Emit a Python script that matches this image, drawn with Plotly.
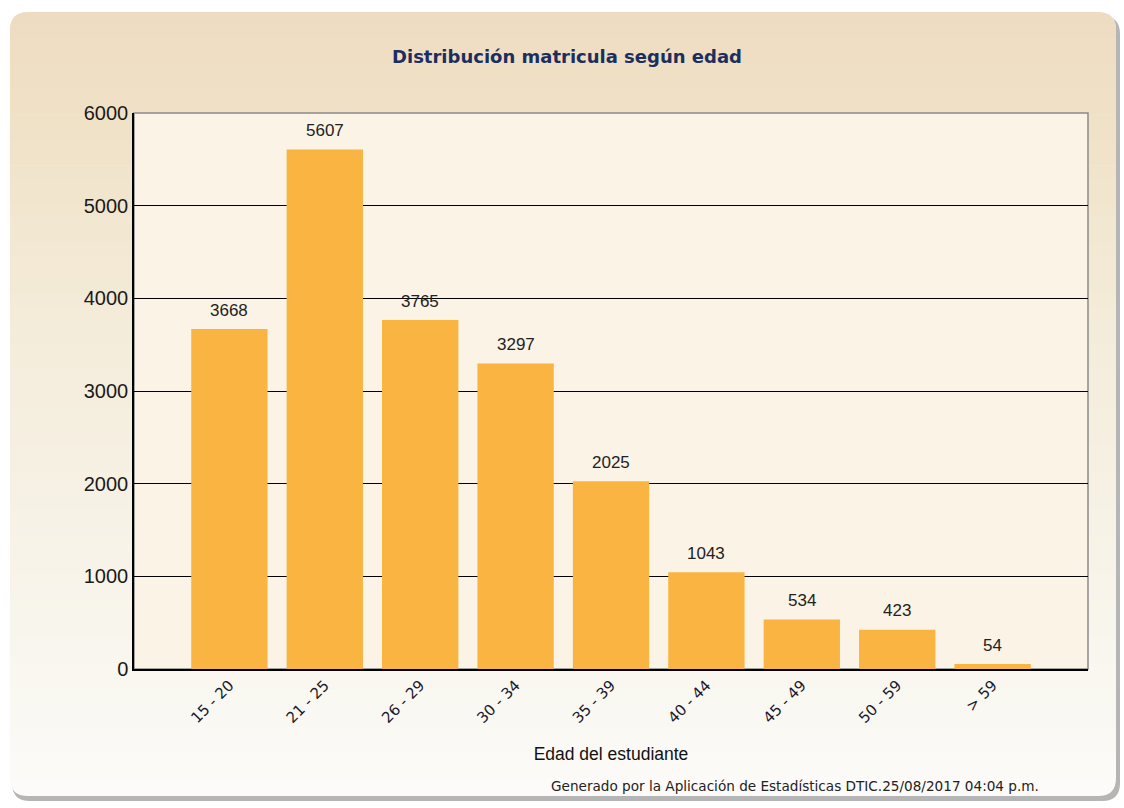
import plotly.graph_objects as go

# data
categorias = ["15 - 20", "21 - 25", "26 - 29", "30 - 34", "35 - 39",
              "40 - 44", "45 - 49", "50 - 59", "> 59"]
matricula = [3668, 5607, 3765, 3297, 2025, 1043, 534, 423, 54]
y_ticks = [0, 1000, 2000, 3000, 4000, 5000, 6000]

W, H = 1124, 808
L, R, T, B = 134, 36, 113, 139
PW, PH = W - L - R, H - T - B


def px(x):
    return (x - L) / PW


def py(y):
    return (H - B - y) / PH


def rounded(x0, y0, x1, y1, r, top=True, bottom=True):
    # rounded rectangle path in paper coordinates, built from pixel values
    rx, ry = r / PW, r / PH
    a, b, c, d = px(x0), px(x1), py(y0), py(y1)  # c = top, d = bottom
    p = []
    if top:
        p.append(f"M{a},{c - ry} Q{a},{c} {a + rx},{c} L{b - rx},{c} Q{b},{c} {b},{c - ry}")
    else:
        p.append(f"M{a},{c} L{b},{c}")
    if bottom:
        p.append(f"L{b},{d + ry} Q{b},{d} {b - rx},{d} L{a + rx},{d} Q{a},{d} {a},{d + ry} Z")
    else:
        p.append(f"L{b},{d} L{a},{d} Z")
    return " ".join(p)


def mix(c1, c2, t):
    return "rgb({},{},{})".format(*[round(c1[i] + (c2[i] - c1[i]) * t) for i in range(3)])


shapes = []
# shadow
shapes.append(dict(type="path", xref="paper", yref="paper", layer="below",
                   path=rounded(12, 16, 1120, 801, 18), fillcolor="#b5b5b5",
                   line=dict(width=0)))
# panel base
shapes.append(dict(type="path", xref="paper", yref="paper", layer="below",
                   path=rounded(10, 12, 1116, 796, 18), fillcolor="#fcfbf9",
                   line=dict(width=0)))
# gradient bands
top_c, mid_c, low_c, bot_c = (238, 220, 194), (244, 236, 218), (249, 247, 240), (252, 251, 249)
stops = [(12, top_c), (110, (240, 225, 198)), (330, mid_c), (680, low_c), (796, bot_c)]
y_start, y_end = 12, 778
n = 60
step = (y_end - y_start) / n
for k in range(n):
    ya = y_start + k * step
    ym = ya + step / 2
    for j in range(len(stops) - 1):
        if stops[j][0] <= ym <= stops[j + 1][0]:
            t = (ym - stops[j][0]) / (stops[j + 1][0] - stops[j][0])
            col = mix(stops[j][1], stops[j + 1][1], t)
            break
    if k == 0:
        path = rounded(10, ya, 1116, ya + step + 0.6, 18, top=True, bottom=False)
        shapes.append(dict(type="path", xref="paper", yref="paper", layer="below",
                           path=path, fillcolor=col, line=dict(width=0)))
    else:
        shapes.append(dict(type="rect", xref="paper", yref="paper", layer="below",
                           x0=px(10), x1=px(1116), y0=py(ya + step + 0.6), y1=py(ya),
                           fillcolor=col, line=dict(width=0)))
# plot area background and frame
shapes.append(dict(type="rect", xref="paper", yref="paper", layer="below",
                   x0=0, x1=1, y0=0, y1=1, fillcolor="#fbf3e6",
                   line=dict(color="#8a8a8a", width=1.5)))

fig = go.Figure()
fig.add_trace(go.Bar(
    x=categorias, y=matricula,
    marker=dict(color="#f9b441", line=dict(width=0)),
    width=0.8,
    hoverinfo="x+y",
))

# value labels above the bars
annotations = []
for cat, val in zip(categorias, matricula):
    annotations.append(dict(x=cat, y=val, text=str(val), showarrow=False,
                            yanchor="middle", yshift=19,
                            font=dict(family="Liberation Sans", size=17, color="#222222")))
annotations.append(dict(
    text="Generado por la Aplicación de Estadísticas DTIC.25/08/2017 04:04 p.m.",
    xref="paper", yref="paper", x=px(1041), y=py(786),
    xanchor="right", yanchor="middle", showarrow=False,
    font=dict(family="DejaVu Sans", size=13.6, color="#222222")))

fig.update_layout(
    width=W, height=H,
    margin=dict(l=L, r=R, t=T, b=B),
    paper_bgcolor="white",
    plot_bgcolor="rgba(0,0,0,0)",
    showlegend=False,
    title=dict(text="<b>Distribución matricula según edad</b>",
               x=567 / W, xanchor="center",
               y=1 - 57 / H, yanchor="middle",
               font=dict(family="DejaVu Sans", size=18, color="#1b2f5e")),
    shapes=shapes,
    bargap=0.2,
    annotations=annotations,
)

fig.update_xaxes(
    type="category", range=[-1, len(categorias)],
    tickangle=-45,
    tickfont=dict(family="DejaVu Sans", size=15, color="#1a1a2e"),
    showline=True, linecolor="black", linewidth=1.5,
    showgrid=False, ticks="",
    title=dict(text="Edad del estudiante", standoff=22,
               font=dict(family="Liberation Sans", size=17.5, color="#111111")),
)
fig.update_yaxes(
    range=[0, 6000], tickvals=y_ticks,
    tickfont=dict(family="Liberation Sans", size=20, color="#1a1a1a"),
    showline=True, linecolor="black", linewidth=1.5,
    showgrid=True, gridcolor="black", gridwidth=1,
    zeroline=False, ticks="",
)

fig.write_html("out.html", config={"displayModeBar": False},
               post_script="document.body.style.margin='0';")
